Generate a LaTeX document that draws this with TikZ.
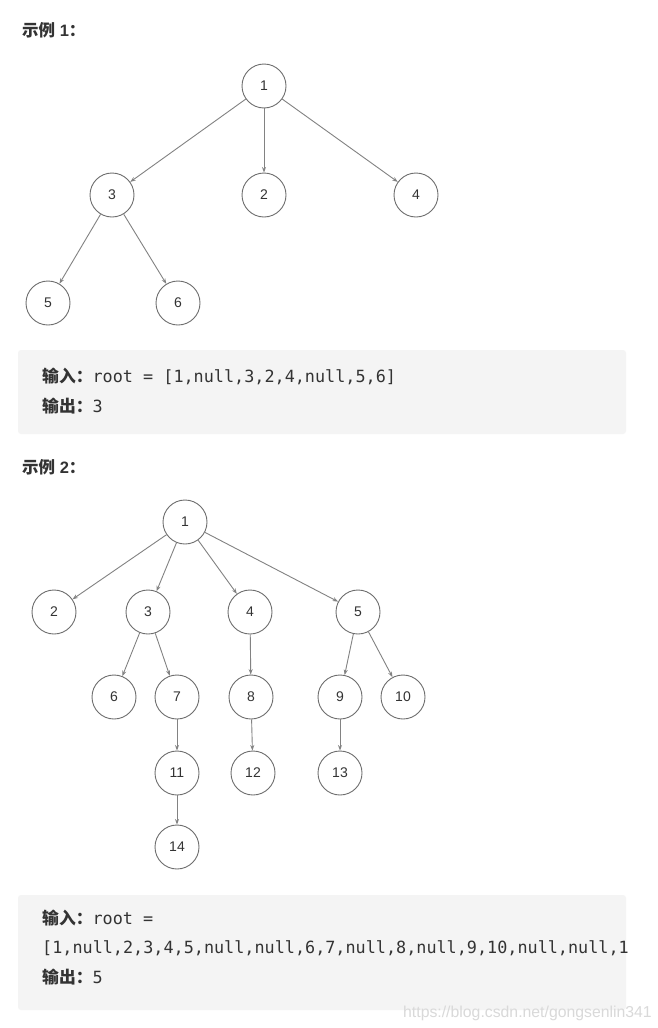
\documentclass[tikz,border=0pt]{standalone}
\usepackage{fontspec}
\setmainfont{Liberation Sans}
\setmonofont{DejaVu Sans Mono}
\newfontfamily\cjk{Noto Sans CJK SC}
\usetikzlibrary{arrows.meta}

\definecolor{boxgray}{RGB}{244,244,244}
\definecolor{inkgray}{RGB}{51,51,51}
\definecolor{linegray}{RGB}{130,130,130}
\definecolor{ringgray}{RGB}{110,110,110}

\tikzset{
  tnode/.style={circle,draw=ringgray,line width=0.9pt,minimum size=44pt,inner sep=0pt,
    text=inkgray,font=\fontsize{14}{14}\selectfont},
  edge/.style={draw=linegray,line width=0.9pt,-{Stealth[length=5.5pt,width=4pt]}},
  title/.style={anchor=west,inner sep=0pt,text=inkgray,font=\fontsize{16.5}{16.5}\selectfont\bfseries},
  txt/.style={anchor=west,inner sep=0pt,text=inkgray,font=\fontsize{16.8}{16.8}\selectfont},
  codebox/.style={fill=boxgray,draw=none,rounded corners=3pt}
}

\begin{document}
\begin{tikzpicture}[x=1pt,y=-1pt]
  \useasboundingbox[fill=white] (0,0) rectangle (658,1028);

  % first example
  \node[title] (t1) at (22,30) {{\cjk 示例} 1{\cjk ：}};

  \node[tnode] (a1) at (264,86) {1};
  \node[tnode] (a3) at (112,195) {3};
  \node[tnode] (a2) at (264,195) {2};
  \node[tnode] (a4) at (416,195) {4};
  \node[tnode] (a5) at (48,303) {5};
  \node[tnode] (a6) at (178,303) {6};

  \foreach \from/\to in {a1/a3, a1/a2, a1/a4, a3/a5, a3/a6}
    \draw[edge] (\from) -- (\to);

  \fill[codebox] (18,350) rectangle (626,434);
  \node[txt] (in1) at (42,376) {{\cjk\bfseries 输入：}\ttfamily root = [1,null,3,2,4,null,5,6]};
  \node[txt] (out1) at (42,406) {{\cjk\bfseries 输出：}\ttfamily 3};

  % second example
  \node[title] (t2) at (22,467) {{\cjk 示例} 2{\cjk ：}};

  \node[tnode] (b1) at (185,522) {1};
  \node[tnode] (b2) at (54,612) {2};
  \node[tnode] (b3) at (148,612) {3};
  \node[tnode] (b4) at (250,612) {4};
  \node[tnode] (b5) at (358,612) {5};
  \node[tnode] (b6) at (114,697) {6};
  \node[tnode] (b7) at (177,697) {7};
  \node[tnode] (b8) at (251,697) {8};
  \node[tnode] (b9) at (340,697) {9};
  \node[tnode] (b10) at (403,697) {10};
  \node[tnode] (b11) at (177,773) {11};
  \node[tnode] (b12) at (253,773) {12};
  \node[tnode] (b13) at (340,773) {13};
  \node[tnode] (b14) at (177,847) {14};

  \foreach \from/\to in {b1/b2, b1/b3, b1/b4, b1/b5, b3/b6, b3/b7, b4/b8, b5/b9, b5/b10,
                         b7/b11, b8/b12, b9/b13, b11/b14}
    \draw[edge] (\from) -- (\to);

  \fill[codebox] (18,895) rectangle (626,1010);
  \node[txt] (in2) at (42,918) {{\cjk\bfseries 输入：}\ttfamily root =};
  \node[txt] (arr2) at (42,948) {\ttfamily [1,null,2,3,4,5,null,null,6,7,null,8,null,9,10,null,null,1};
  \node[txt] (out2) at (42,977) {{\cjk\bfseries 输出：}\ttfamily 5};

  \node[anchor=east,inner sep=0pt,text=black!15,font=\fontsize{15.8}{15.8}\selectfont]
    (mark) at (652,1013) {https://blog.csdn.net/gongsenlin341};
\end{tikzpicture}
\end{document}
